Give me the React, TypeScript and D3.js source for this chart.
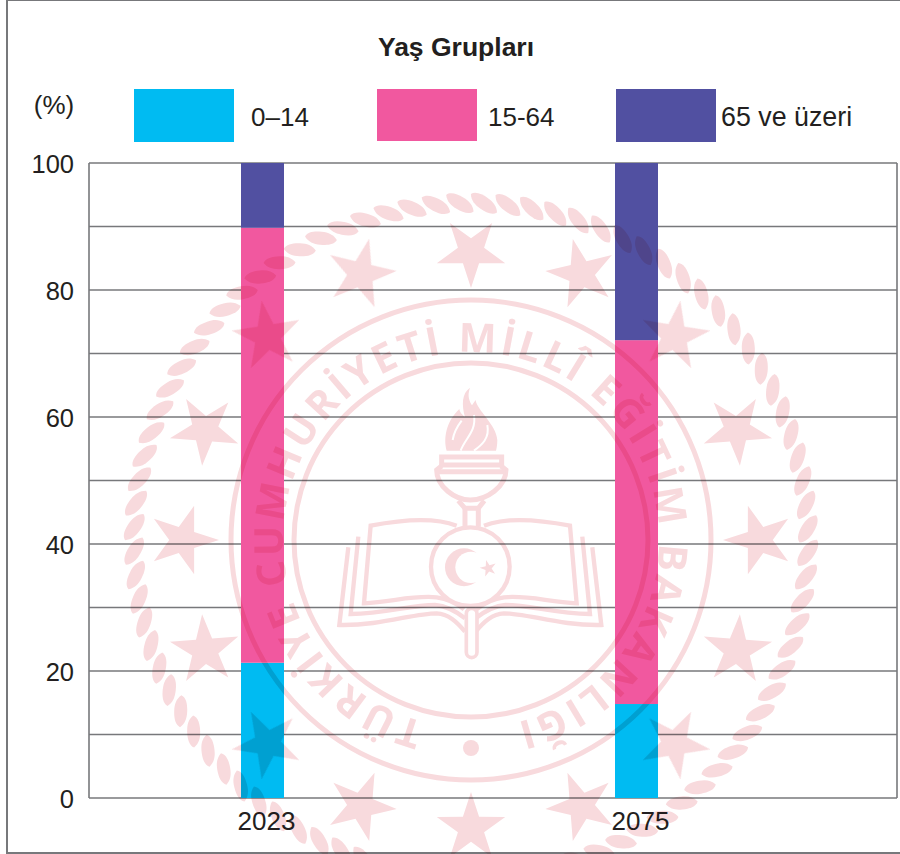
import * as d3 from 'd3';

const years = ['2023', '2075'];
const youth = [21.3, 14.8];
const working = [68.5, 57.3];
const elderly = [10.2, 27.9];
const groupLabels = ['0–14', '15-64', '65 ve üzeri'];
const groupColors = ['#00bbf2', '#f1589f', '#5150a1'];
const keys = ['youth', 'working', 'elderly'];
const yLabels = [0, 20, 40, 60, 80, 100];

const rows = years.map((year, i) => ({ year, youth: youth[i], working: working[i], elderly: elderly[i] }));
const FONT = '"Liberation Sans", Arial, sans-serif';
const INK = '#231f20';
const GRID = '#77787b';
const SEAL = '#f8dadd';

const y = d3.scaleLinear().domain([0, 100]).range([798, 163]);
const x = d3.scalePoint().domain(years).range([262.5, 636.5]);
const barW = 43;

// legend boxes do not sit on a regular step in the original
const legendBoxes = [
  { x: 134, h: 53, tx: 251, size: 26 },
  { x: 377, h: 52, tx: 488, size: 26 },
  { x: 616, h: 53, tx: 721, size: 26.8 },
];

const starPath = (outer: number) => {
  const pts = d3.range(10).map(i => [(i * Math.PI) / 5, i % 2 ? outer * 0.382 : outer] as [number, number]);
  return d3.lineRadial().curve(d3.curveLinearClosed)(pts) as string;
};

// one twist of the rope border, fatter in the middle than an ellipse
const ropePath = 'M-16,0C-14,-5 -7,-6.5 0,-6.5C7,-6.5 12,-5 16,0C14,5 7,6.5 0,6.5C-7,6.5 -12,5 -16,0Z';

// Ministry seal that is printed behind the chart as a watermark
function Seal() {
  const cx = 471;
  const cy = 540;
  const textR = 188;
  return (
    <g style={{ mixBlendMode: 'multiply' }}>
      <defs>
        <path id="sealText" d={`M${cx},${cy + textR}A${textR},${textR} 0 1 1 ${cx},${cy - textR}A${textR},${textR} 0 1 1 ${cx},${cy + textR}`} />
      </defs>
      <g transform={`translate(${cx},${cy})`}>
        {d3.range(88).map(i => (
          <path key={i} d={ropePath} fill={SEAL}
            transform={`rotate(${2.2 + (i * 360) / 88}) translate(0,-337) rotate(33)`} />
        ))}
        {d3.range(16).map(i => (
          <path key={i} d={starPath(36)} fill={SEAL}
            transform={`rotate(${i * 22.5}) translate(0,-288) rotate(180)`} />
        ))}
        <circle r={240} fill="none" stroke={SEAL} strokeWidth={5} />
        <circle r={177} fill="none" stroke={SEAL} strokeWidth={5} />
        <circle cy={208} r={8} fill={SEAL} />
      </g>
      <text fontFamily='"Open Sans", sans-serif' fontWeight={700} fontSize={40} fill={SEAL}>
        <textPath href="#sealText" startOffset="4%" textLength={1087} lengthAdjust="spacing">TÜRKİYE CUMHURİYETİ MİLLÎ EĞİTİM BAKANLIĞI</textPath>
      </text>

      <g transform="translate(300,360) scale(0.3333)">
        {/* flame */}
        <path fill={SEAL} d="M440,272C430,235 438,185 478,147C480,160 490,165 495,172C485,135 485,100 510,83C500,110 510,125 516,136L527,120C530,150 590,195 592,240C592,255 590,265 588,272Z" />
        <g fill="none" stroke="#fff" strokeWidth={6}>
          <path d="M458,240C462,215 475,195 485,182" />
          <path d="M482,272C495,235 530,215 522,165" />
          <path d="M522,272C545,255 570,235 562,195" />
        </g>
        {/* cup */}
        <g fill="none" stroke={SEAL} strokeWidth={15}>
          <rect x={425} y={291} width={180} height={24} />
          <path d="M425,318L410,330C410,380 465,420 511,420C560,420 618,380 618,330L603,318" />
          <path d="M412,335H616" />
          <path d="M475,422L495,445H535L553,422" />
          <path d="M495,445V500M535,445V500" />
        </g>
        {/* book pages, drawn once and mirrored */}
        {[1, -1].map(s => (
          <g key={s} fill="none" stroke={SEAL} strokeWidth={13} transform={s < 0 ? 'translate(1022,0) scale(-1,1)' : undefined}>
            <path d="M470,497C400,470 300,480 212,497L192,730C280,725 340,705 410,712C440,716 470,730 492,748" />
            <path d="M175,530L152,762C260,760 330,735 405,735C440,738 470,755 495,775" />
            <path d="M145,562L118,795C240,798 340,760 410,760C445,762 470,785 495,815" />
          </g>
        ))}
        <circle cx={511} cy={620} r={118} fill="#fff" stroke={SEAL} strokeWidth={13} />
        <circle cx={492} cy={622} r={57} fill={SEAL} />
        <circle cx={513} cy={622} r={47} fill="#fff" />
        <path d={starPath(26)} fill={SEAL} transform="translate(565,625) rotate(-15)" />
        <rect x={499} y={745} width={32} height={148} rx={16} fill="#fff" stroke={SEAL} strokeWidth={11} />
      </g>
    </g>
  );
}

export default function App() {
  const stacked = d3.stack().keys(keys)(rows as any);

  return (
    <svg width={900} height={854} style={{ position: 'absolute', left: 0, top: 0, background: '#fff' }} fontFamily={FONT}>
      <rect x={7} y={0} width={920} height={853} fill="none" stroke={GRID} strokeWidth={2} />

      <text x={456} y={56} textAnchor="middle" fontSize={26.5} fontWeight={700} fill={INK}>Yaş Grupları</text>
      <text x={54} y={114} textAnchor="middle" fontSize={26} fill={INK}>(%)</text>

      {groupLabels.map((label, i) => (
        <g key={label}>
          <rect x={legendBoxes[i].x} y={89} width={100} height={legendBoxes[i].h} fill={groupColors[i]} />
          <text x={legendBoxes[i].tx} y={126} fontSize={legendBoxes[i].size} fill={INK}>{label}</text>
        </g>
      ))}

      {y.ticks(10).map(t => (
        <line key={t} x1={89} x2={897} y1={y(t)} y2={y(t)} stroke={GRID} strokeWidth={1.6} />
      ))}
      <line x1={89} x2={89} y1={y(100)} y2={y(0)} stroke={GRID} strokeWidth={1.6} />
      <line x1={897} x2={897} y1={y(100)} y2={y(0)} stroke={GRID} strokeWidth={1.6} />

      {stacked.map((layer, i) => (
        <g key={layer.key} fill={groupColors[i]}>
          {layer.map((d, j) => (
            <rect key={years[j]} x={(x(years[j]) as number) - barW / 2} width={barW}
              y={y(d[1])} height={y(d[0]) - y(d[1])} />
          ))}
        </g>
      ))}

      {yLabels.map(t => (
        <text key={t} x={74} y={y(t) + 10} textAnchor="end" fontSize={25.5} fill={INK}>{t}</text>
      ))}
      {years.map(yr => (
        <text key={yr} x={(x(yr) as number) + 4} y={830} textAnchor="middle" fontSize={26} fill={INK}>{yr}</text>
      ))}

      <Seal />
    </svg>
  );
}
